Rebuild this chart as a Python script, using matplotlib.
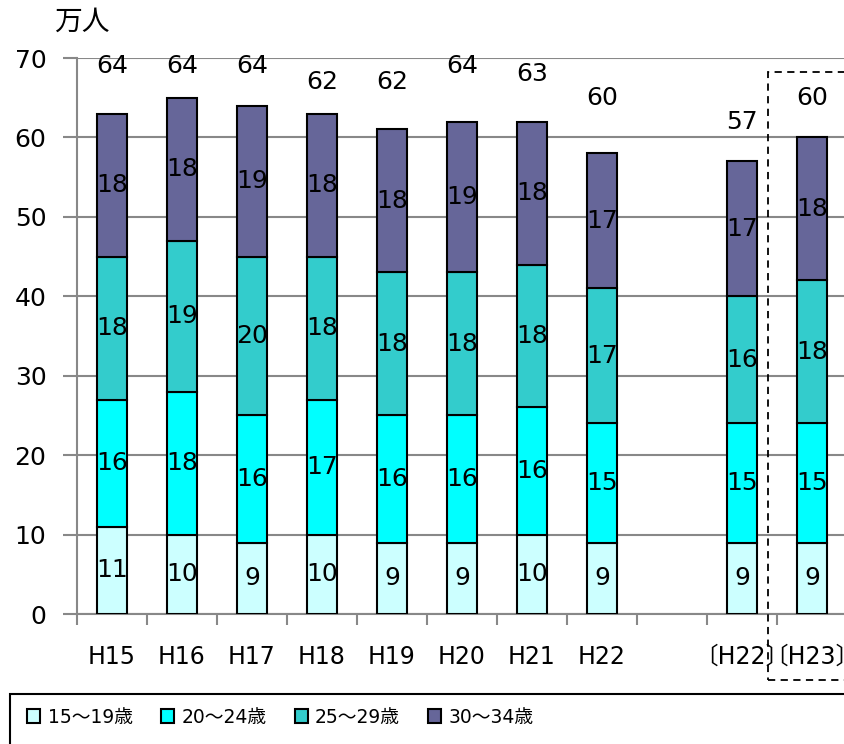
import matplotlib.pyplot as plt
import numpy as np
from matplotlib.patches import Rectangle, Patch

plt.rcParams['font.family'] = ['DejaVu Sans', 'Noto Sans CJK JP']

categories = ['H15', 'H16', 'H17', 'H18', 'H19', 'H20', 'H21', 'H22', '', '〔H22〕', '〔H23〕']
age_15_19 = [11, 10, 9, 10, 9, 9, 10, 9, np.nan, 9, 9]
age_20_24 = [16, 18, 16, 17, 16, 16, 16, 15, np.nan, 15, 15]
age_25_29 = [18, 19, 20, 18, 18, 18, 18, 17, np.nan, 16, 18]
age_30_34 = [18, 18, 19, 18, 18, 19, 18, 17, np.nan, 17, 18]
totals = [64, 64, 64, 62, 62, 64, 63, 60, np.nan, 57, 60]

series = [('15～19歳', age_15_19, '#CCFFFF'),
          ('20～24歳', age_20_24, '#00FFFF'),
          ('25～29歳', age_25_29, '#33CCCC'),
          ('30～34歳', age_30_34, '#666699')]

fig = plt.figure(figsize=(8.45, 7.44), dpi=100)
ax = fig.add_axes([77 / 845, 130 / 744, 770 / 845, 556 / 744])

x = np.arange(len(categories))
bottom = np.zeros(len(categories))
handles = []
for name, vals, color in series:
    vals = np.array(vals, dtype=float)
    ax.bar(x, vals, 0.43, bottom=bottom, color=color, edgecolor='black',
           linewidth=1.5, zorder=3)
    for xi, v, b in zip(x, vals, bottom):
        if not np.isnan(v):
            ax.text(xi, b + v / 2, f'{v:.0f}', ha='center', va='center',
                    fontsize=18, zorder=4)
    bottom = bottom + np.nan_to_num(vals)
    handles.append(Patch(facecolor=color, edgecolor='black', linewidth=1.5, label=name))

# totals above each bar
for xi, t in zip(x, totals):
    if not np.isnan(t):
        ax.text(xi, t + 5, f'{t:.0f}', ha='center', va='center', fontsize=18,
                clip_on=False)

ax.set_ylim(0, 70)
ax.set_xlim(-0.5, len(categories) - 0.5)
ax.set_yticks(np.arange(0, 71, 10))
ax.yaxis.grid(True, color='#888888', linewidth=1.5, zorder=0)
ax.tick_params(axis='y', labelsize=18, length=10, width=1.5, color='#888888', pad=12)

ax.set_xticks(x)
ax.set_xticklabels(categories, fontsize=17)
ax.set_xticks(np.arange(-0.5, len(categories)), minor=True)
ax.tick_params(axis='x', which='major', length=0, pad=22)
ax.tick_params(axis='x', which='minor', length=8, width=1.5, color='#888888')

for side in ['top', 'right']:
    ax.spines[side].set_visible(False)
for side in ['left', 'bottom']:
    ax.spines[side].set_color('#888888')
    ax.spines[side].set_linewidth(1.5)

fig.text(54 / 845, 1 - 22 / 744, '万人', fontsize=20, va='center', ha='left')

# dashed frame around the latest year
ax.add_patch(Rectangle((9.37, -8.3), 1.3, 76.6, fill=False, linestyle=(0, (4, 3)),
                       edgecolor='black', linewidth=1.3, clip_on=False, zorder=5))

# legend box
fig.patches.append(Rectangle((10 / 845, -0.01), 840 / 845, 57 / 744, fill=False,
                             edgecolor='black', linewidth=1.5,
                             transform=fig.transFigure))
fig.legend(handles=handles, loc='center left', bbox_to_anchor=(10 / 845, 27 / 744),
           ncol=4, frameon=False, fontsize=13.5, handlelength=0.7, handleheight=0.7,
           handletextpad=0.4, columnspacing=1.5)

fig.savefig('out.png', dpi=100)
